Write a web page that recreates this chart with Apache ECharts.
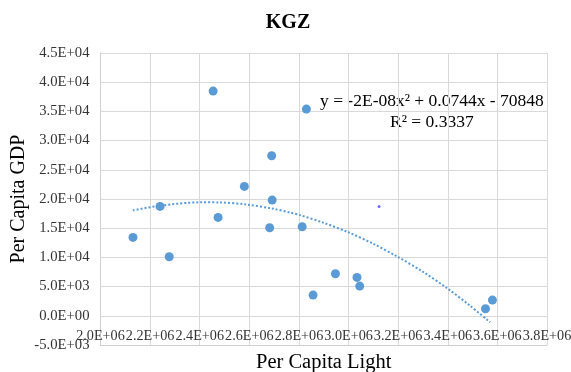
<!DOCTYPE html>
<html>
<head>
<meta charset="utf-8">
<script src="https://cdn.jsdelivr.net/npm/echarts@6/dist/echarts.min.js"></script>
<style>html,body{margin:0;padding:0;background:#fff}#c{width:571px;height:372px}</style>
</head>
<body>
<div id="c"></div>
<script>
// Scatter: per capita light (x) vs per capita GDP (y)
const lightX = [2131000, 2240000, 2277000, 2454000, 2474000, 2580000, 2690000, 2692000, 2682000, 2830000, 2813000, 2857000, 2947000, 3034000, 3045000, 3552000, 3580000];
const gdpY   = [13425, 18733, 10103, 38476, 16849, 22158, 27397, 19812, 15068, 35394, 15240, 3545, 7192, 6575, 5086, 1199, 2688];
// small isolated marker
const extraX = [3123000];
const extraY = [18733];
// polynomial trendline
const trendX = [2130000, 2240000, 2401000, 2482000, 2590000, 2697000, 2764000, 2804000, 2898000, 2999000, 3100000, 3194000, 3302000, 3396000, 3490000, 3571000];
const trendY = [18050, 18850, 19430, 19410, 19050, 18320, 17680, 17240, 15950, 14300, 12330, 10200, 7480, 4760, 1720, -1120];
const eqLine1 = 'y = -2E-08x² + 0.0744x - 70848';
const eqLine2 = 'R² = 0.3337';

function fmt(v){
  const s = Number(v).toExponential(1).toUpperCase();
  return s.replace(/E([+-])(\d+)$/, function(m, sg, d){ return 'E' + sg + (d.length < 2 ? '0' + d : d); });
}
const zip = (a, b) => a.map((v, i) => [v, b[i]]);
const serif = 'Liberation Serif';
const chart = echarts.init(document.getElementById('c'));
chart.setOption({
  animation: false,
  backgroundColor: '#fff',
  title: { text: 'KGZ', left: 283, textAlign: 'center', top: 8,
    textStyle: { fontFamily: serif, fontSize: 20, fontWeight: 'bold', color: '#000' } },
  grid: { left: 100.5, right: 24, top: 53, bottom: 27, containLabel: false, outerBoundsMode: 'none' },
  xAxis: {
    type: 'value', min: 2000000, max: 3800000, interval: 200000,
    name: 'Per Capita Light', nameLocation: 'middle', nameGap: 7, nameMoveOverlap: false,
    nameTextStyle: { fontFamily: serif, fontSize: 20.5, color: '#000' },
    axisLine: { show: true, onZero: false, lineStyle: { color: '#d0d0d0', width: 1 } },
    axisTick: { show: false },
    axisLabel: { formatter: fmt, fontFamily: serif, fontSize: 14.2, color: '#333', margin: -16, hideOverlap: false, showMinLabel: true, showMaxLabel: true },
    splitLine: { show: true, lineStyle: { color: '#d9d9d9', width: 1 } }
  },
  yAxis: {
    type: 'value', min: -5000, max: 45000, interval: 5000,
    name: 'Per Capita GDP', nameLocation: 'middle', nameGap: 72, nameMoveOverlap: false,
    nameTextStyle: { fontFamily: serif, fontSize: 20, color: '#000' },
    axisLine: { show: true, onZero: false, lineStyle: { color: '#d0d0d0', width: 1 } },
    axisTick: { show: false },
    axisLabel: { formatter: fmt, fontFamily: serif, fontSize: 14.7, color: '#333', margin: 11 },
    splitLine: { show: true, lineStyle: { color: '#d9d9d9', width: 1 } }
  },
  series: [
    { type: 'line', data: zip(trendX, trendY), smooth: 0.3, showSymbol: false, silent: true, z: 2,
      lineStyle: { color: '#5b9bd5', width: 2, type: [2, 2] } },
    { type: 'scatter', data: zip(lightX, gdpY), symbolSize: 9, z: 3,
      itemStyle: { color: '#5b9bd5', opacity: 1 } },
    { type: 'scatter', data: zip(extraX, extraY), symbolSize: 3, z: 3,
      itemStyle: { color: '#4a4aff' } }
  ],
  graphic: [
    { type: 'text', left: 320, top: 92, style: { text: eqLine1, font: '17.5px "Liberation Serif"', fill: '#000' } },
    { type: 'text', left: 390, top: 113, style: { text: eqLine2, font: '17.5px "Liberation Serif"', fill: '#000' } }
  ]
});
</script>
</body>
</html>
